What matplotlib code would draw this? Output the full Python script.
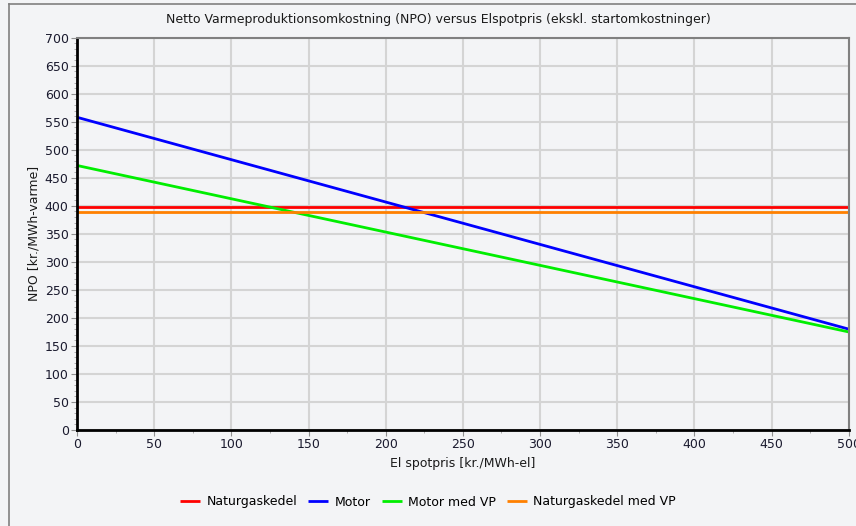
import matplotlib
matplotlib.use("Agg")
import matplotlib.pyplot as plt
from matplotlib.lines import Line2D
from matplotlib.ticker import MultipleLocator

# Data
spotpris = [0, 500]
naturgaskedel = [398.5, 398.5]
motor = [558, 180]
motor_med_vp = [472, 175]
naturgaskedel_med_vp = [389, 389]

series = [
    ("Naturgaskedel", naturgaskedel, "#ff0000"),
    ("Motor", motor, "#0000ff"),
    ("Motor med VP", motor_med_vp, "#00ee00"),
    ("Naturgaskedel med VP", naturgaskedel_med_vp, "#ff8000"),
]

bg = "#f3f4f6"
fs = 9
plt.rcParams['font.family'] = ['DejaVu Sans']
fig = plt.figure(figsize=(8.56, 5.26), dpi=100, facecolor=bg)
ax = fig.add_axes([77/856, 1-430/526, (848.7-77)/856, (430-37.7)/526])
ax.set_facecolor(bg)

for name, vals, col in series:
    ax.plot(spotpris, vals, color=col, lw=2, label=name, solid_capstyle='butt')

ax.set_xlim(0, 500)
ax.set_ylim(0, 700)
ax.xaxis.set_major_locator(MultipleLocator(50))
ax.xaxis.set_minor_locator(MultipleLocator(25))
ax.yaxis.set_major_locator(MultipleLocator(50))
ax.yaxis.set_minor_locator(MultipleLocator(10))
ax.grid(True, which='major', color='#d4d4d4', lw=1.5)
ax.set_axisbelow(True)

for s in ['left', 'bottom']:
    ax.spines[s].set_color('black')
    ax.spines[s].set_linewidth(2)
for s in ['top', 'right']:
    ax.spines[s].set_color('#808080')
    ax.spines[s].set_linewidth(1.5)

ax.tick_params(which='major', length=4, color='#909090', labelsize=fs, labelcolor='#1a1a2e', pad=2)
ax.tick_params(which='minor', length=2.5, color='#a0a0a0')

fig.text(438/856, 1-20/526,
         "Netto Varmeproduktionsomkostning (NPO) versus Elspotpris (ekskl. startomkostninger)",
         fontsize=fs, color='#1a1a1a', ha='center', va='center')
ax.set_xlabel("El spotpris [kr./MWh-el]", fontsize=fs, color='#1a1a1a', labelpad=4)
ax.set_ylabel("NPO [kr./MWh-varme]", fontsize=fs, color='#1a1a1a', labelpad=3)

leg = fig.legend(loc='center', bbox_to_anchor=(0.5, 1-502/526), ncol=4, frameon=False,
                 fontsize=fs, handlelength=1.6, columnspacing=0.9, handletextpad=0.5)

# figure frame lines (top and left)
fig.add_artist(Line2D([9/856, 1], [1-4/526, 1-4/526], color='#808080', lw=1.2, transform=fig.transFigure))
fig.add_artist(Line2D([9/856, 9/856], [0, 1-4/526], color='#808080', lw=1.2, transform=fig.transFigure))

fig.savefig("out.png", dpi=100, facecolor=bg)
